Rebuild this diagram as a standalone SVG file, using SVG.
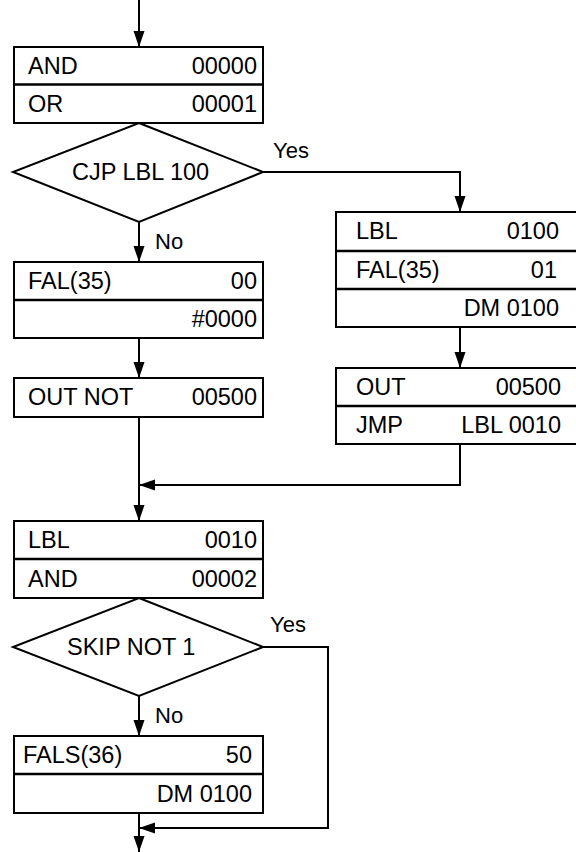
<svg xmlns="http://www.w3.org/2000/svg" width="576" height="852" viewBox="0 0 576 852">
<style>
.box{fill:#fff;stroke:#000;stroke-width:2}
.div{stroke:#000;stroke-width:2.4}
.t{font-family:"Liberation Sans",Arial,sans-serif;font-size:23.5px;fill:#000}
.r{text-anchor:end}
.lbl{font-family:"Liberation Sans",Arial,sans-serif;font-size:22px;fill:#000}
.c{fill:none;stroke:#000;stroke-width:2}
</style>
<defs>
<marker id="ah" markerUnits="userSpaceOnUse" markerWidth="17" markerHeight="12" refX="16" refY="6" orient="auto">
<path d="M0,0.5 L16,6 L0,11.5 Z" fill="#000"/>
</marker>
</defs>
<rect width="576" height="852" fill="#fff"/>
<g id="connectors">
<path class="c" d="M139,0 V47" marker-end="url(#ah)"/>
<path class="c" d="M139,222 V262" marker-end="url(#ah)"/>
<path class="c" d="M139,338 V378" marker-end="url(#ah)"/>
<path class="c" d="M139,417 V521" marker-end="url(#ah)"/>
<path class="c" d="M263,172 H460 V212" marker-end="url(#ah)"/>
<path class="c" d="M460,327 V368" marker-end="url(#ah)"/>
<path class="c" d="M460,444 V485 H139" marker-end="url(#ah)"/>
<path class="c" d="M139,696 V736" marker-end="url(#ah)"/>
<path class="c" d="M139,813 V852" marker-end="url(#ah)"/>
<path class="c" d="M263,647 H328 V828 H139" marker-end="url(#ah)"/>
<text class="lbl" x="273" y="158">Yes</text>
<text class="lbl" x="155" y="249">No</text>
<text class="lbl" x="270" y="632">Yes</text>
<text class="lbl" x="155" y="723">No</text>
</g>
<g id="n1">
<rect class="box" x="14" y="47" width="249" height="76"/>
<line class="div" x1="14" y1="84.5" x2="263" y2="84.5"/>
<text class="t" x="28" y="74">AND</text><text class="t r" x="257" y="74">00000</text>
<text class="t" x="28" y="112">OR</text><text class="t r" x="257" y="112">00001</text>
</g>
<g id="d1">
<polygon class="box" points="139,123 263,172 139,222 13,172"/>
<text class="t" x="72" y="180">CJP LBL 100</text>
</g>
<g id="n2">
<rect class="box" x="14" y="262" width="249" height="76"/>
<line class="div" x1="14" y1="300" x2="263" y2="300"/>
<text class="t" x="28" y="289">FAL(35)</text><text class="t r" x="257" y="289">00</text>
<text class="t r" x="257" y="327">#0000</text>
</g>
<g id="n3">
<rect class="box" x="14" y="378" width="249" height="39"/>
<text class="t" x="28" y="405">OUT NOT</text><text class="t r" x="257" y="405">00500</text>
</g>
<g id="n4">
<rect class="box" x="336" y="212" width="260" height="115"/>
<line class="div" x1="336" y1="251" x2="596" y2="251"/>
<line class="div" x1="336" y1="289" x2="596" y2="289"/>
<text class="t" x="356" y="239">LBL</text><text class="t r" x="559" y="239">0100</text>
<text class="t" x="356" y="278">FAL(35)</text><text class="t r" x="557" y="278">01</text>
<text class="t r" x="559" y="316">DM 0100</text>
</g>
<g id="n5">
<rect class="box" x="336" y="368" width="260" height="76"/>
<line class="div" x1="336" y1="406" x2="596" y2="406"/>
<text class="t" x="356" y="395">OUT</text><text class="t r" x="561" y="395">00500</text>
<text class="t" x="356" y="433">JMP</text><text class="t r" x="561" y="433">LBL 0010</text>
</g>
<g id="n6">
<rect class="box" x="14" y="521" width="249" height="77"/>
<line class="div" x1="14" y1="559" x2="263" y2="559"/>
<text class="t" x="28" y="548">LBL</text><text class="t r" x="257" y="548">0010</text>
<text class="t" x="28" y="587">AND</text><text class="t r" x="257" y="587">00002</text>
</g>
<g id="d2">
<polygon class="box" points="139,598 263,647 139,696 13,647"/>
<text class="t" x="67" y="655">SKIP NOT 1</text>
</g>
<g id="n7">
<rect class="box" x="14" y="736" width="249" height="77"/>
<line class="div" x1="14" y1="774" x2="263" y2="774"/>
<text class="t" x="23" y="763">FALS(36)</text><text class="t r" x="252" y="763">50</text>
<text class="t r" x="252" y="802">DM 0100</text>
</g>
</svg>
